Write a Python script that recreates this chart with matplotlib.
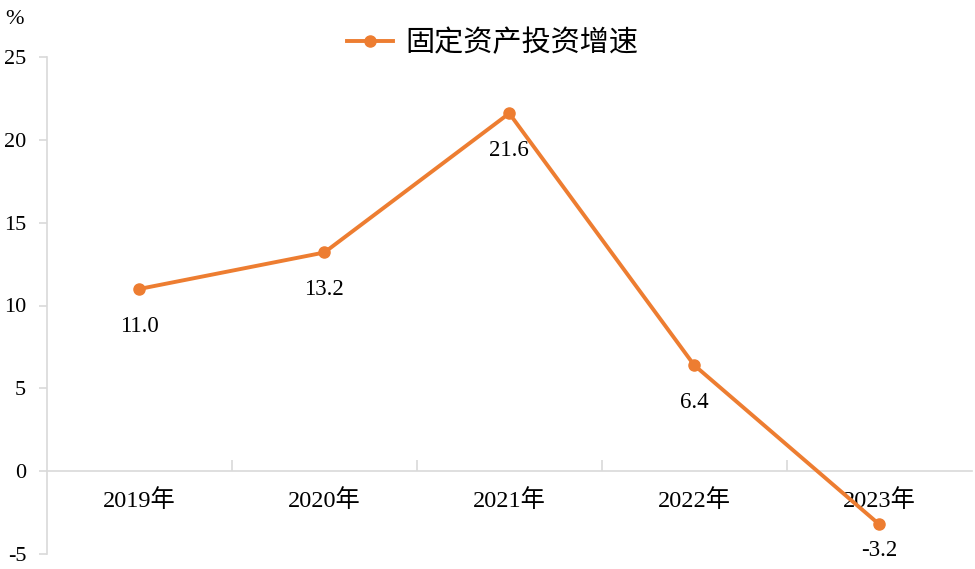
import matplotlib
matplotlib.use('Agg')
import matplotlib.pyplot as plt

plt.rcParams['font.family'] = ['Liberation Serif', 'Noto Sans CJK SC']
plt.rcParams['axes.unicode_minus'] = False

years = ['2019年', '2020年', '2021年', '2022年', '2023年']
growth = [11.0, 13.2, 21.6, 6.4, -3.2]
series_name = '固定资产投资增速'

orange = '#ED7D31'
gray = '#d9d9d9'

fig = plt.figure(figsize=(9.75, 5.69), dpi=100)
ax = fig.add_axes([47 / 975, 15 / 569, 924.5 / 975, 497 / 569])

x = list(range(len(years)))
ax.plot(x, growth, color=orange, lw=2.8, marker='o', ms=8, label=series_name, zorder=3)

for xi, v in zip(x, growth):
    dy = -19 if v < 0 else -27
    ax.annotate(f'{v:.1f}', (xi, v), xytext=(0, dy), textcoords='offset points',
                ha='center', va='center', fontsize=16.5)

ax.set_xlim(-0.5, len(years) - 0.5)
ax.set_ylim(-5, 25)
ax.set_yticks(range(-5, 26, 5))

for s in ['top', 'right']:
    ax.spines[s].set_visible(False)
ax.spines['left'].set_color(gray)
ax.spines['left'].set_linewidth(1.2)
ax.spines['bottom'].set_position(('data', 0))
ax.spines['bottom'].set_color(gray)
ax.spines['bottom'].set_linewidth(1.2)

ax.tick_params(axis='y', direction='out', length=6, width=1.2, color=gray,
               labelsize=16, pad=9)
ax.set_xticks(x)
ax.set_xticklabels(years)
ax.tick_params(axis='x', which='major', length=0, labelsize=17.5, pad=13)
ax.set_xticks([i + 0.5 for i in x[:-1]], minor=True)
ax.tick_params(axis='x', which='minor', direction='in', length=8, width=1.2, color=gray)

fig.text(14 / 975, 1 - 19 / 569, '%', fontsize=16, ha='center', va='center')

fig.legend(loc='center', bbox_to_anchor=(0.505, 1 - 43 / 569), frameon=False,
           prop={'family': ['Noto Sans CJK SC'], 'size': 21},
           handlelength=1.6, handletextpad=0.4)

fig.savefig('out.png', dpi=100)
